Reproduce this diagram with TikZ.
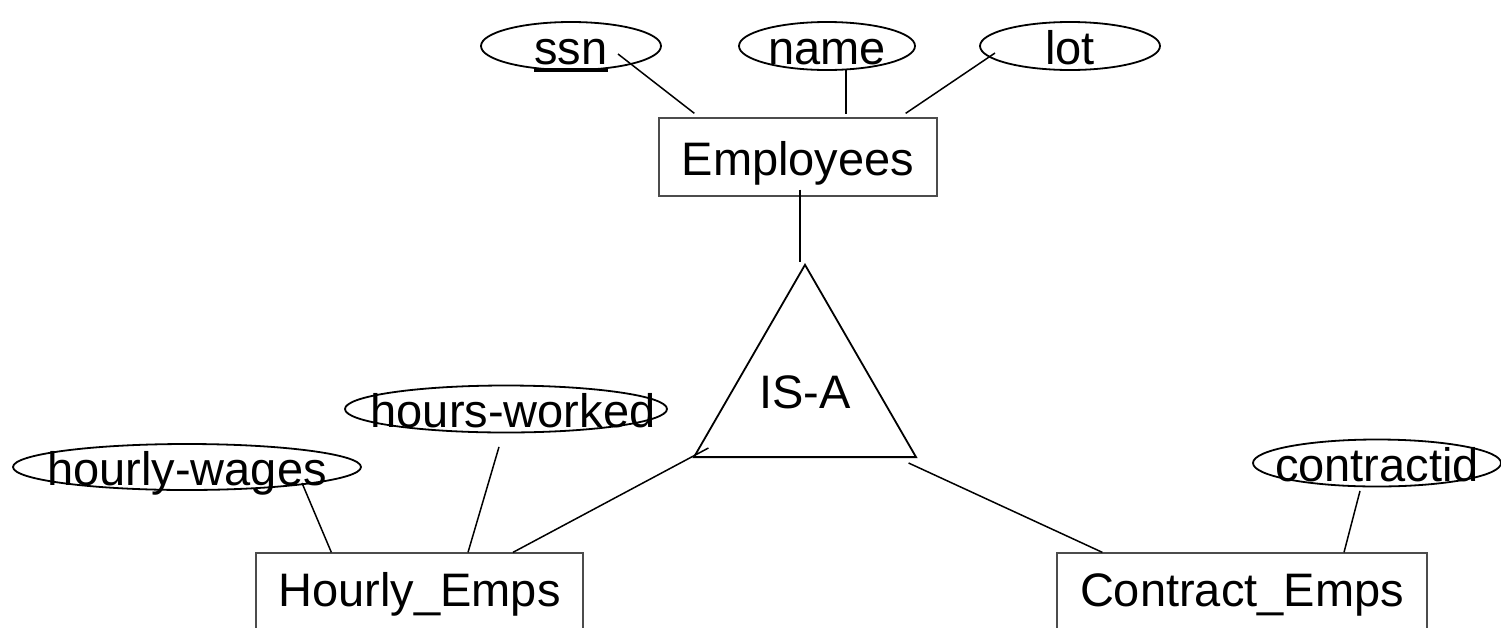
\documentclass[tikz,border=0pt]{standalone}
\usepackage{fontspec}
\setmainfont{Liberation Sans}
\usetikzlibrary{shapes.geometric}
\begin{document}
\begin{tikzpicture}[x=1pt,y=-1pt,
  every node/.style={font=\fontsize{47}{56}\selectfont},
  attr/.style={draw=black, line width=1.8pt, ellipse, inner sep=0pt},
  lbl/.style={inner sep=0pt, text height=46pt, text depth=10pt},
  ent/.style={draw=black!70, line width=1.3pt, rectangle, inner sep=0pt},
  isastyle/.style={draw=black, line width=1.8pt, regular polygon, regular polygon sides=3, inner sep=0pt, minimum size=256.4pt},
  conn/.style={draw=black, line width=1.5pt}]
\useasboundingbox (0,0) rectangle (1501,627);
\fill[white] (0,0) rectangle (1501,627);
% entities
\node[ent, minimum width=278pt, minimum height=78pt] (emp) at (798,157) {};
\node[lbl] at (emp.center) {Employees};
\node[ent, minimum width=327pt, minimum height=127pt] (hourly) at (419.5,616.5) {};
\node[lbl] at ([yshift=-36pt]hourly.north) {Hourly\_Emps};
\node[ent, minimum width=370pt, minimum height=127pt] (contract) at (1242,616.5) {};
\node[lbl] at ([yshift=-36pt]contract.north) {Contract\_Emps};
% attributes
\node[attr, minimum width=180pt, minimum height=48pt] (ssn) at (571,46) {};
\node[lbl] (ssnt) at (ssn.center) {ssn};
\draw[line width=3.5pt] ([yshift=-6pt]ssnt.base west) -- ([yshift=-6pt]ssnt.base east);
\node[attr, minimum width=176pt, minimum height=48pt] (name) at (827,46) {};
\node[lbl] at (name.center) {name};
\node[attr, minimum width=180pt, minimum height=48pt] (lot) at (1070,46) {};
\node[lbl] at (lot.center) {lot};
\node[attr, minimum width=322pt, minimum height=47pt] (hw) at (506,409) {};
\node[lbl] at ([xshift=7pt]hw.center) {hours-worked};
\node[attr, minimum width=348pt, minimum height=46pt] (hwg) at (187,467) {};
\node[lbl] at (hwg.center) {hourly-wages};
\node[attr, minimum width=248pt, minimum height=47pt] (cid) at (1377,463) {};
\node[lbl] at (cid.center) {contractid};
% IS-A
\node[isastyle] (isa) at (805,393) {};
\node[lbl] at ([yshift=3pt]isa.center) {IS-A};
% connectors
\draw[conn] ([shift={(47,8)}]ssn.center) -- ([shift={(36,-4)}]emp.north west);
\draw[conn] ([shift={(19,24)}]name.center) -- ([shift={(48,-3)}]emp.north);
\draw[conn] ([shift={(-75,7)}]lot.center) -- ([shift={(-32,-4)}]emp.north east);
\draw[conn] ([shift={(2,-7)}]emp.south) -- ([shift={(-5,-1)}]isa.corner 1);
\draw[conn] ([shift={(16,-10)}]isa.corner 2) -- ([shift={(93.5,0)}]hourly.north);
\draw[conn] ([shift={(-9,5)}]isa.corner 3) -- ([shift={(46,0)}]contract.north west);
\draw[conn] ([shift={(-7,13.5)}]hw.south) -- ([shift={(48.5,0)}]hourly.north);
\draw[conn] ([shift={(115,16)}]hwg.center) -- ([shift={(76,0)}]hourly.north west);
\draw[conn] ([shift={(-17,3.5)}]cid.south) -- ([shift={(102,0)}]contract.north);
\end{tikzpicture}
\end{document}
